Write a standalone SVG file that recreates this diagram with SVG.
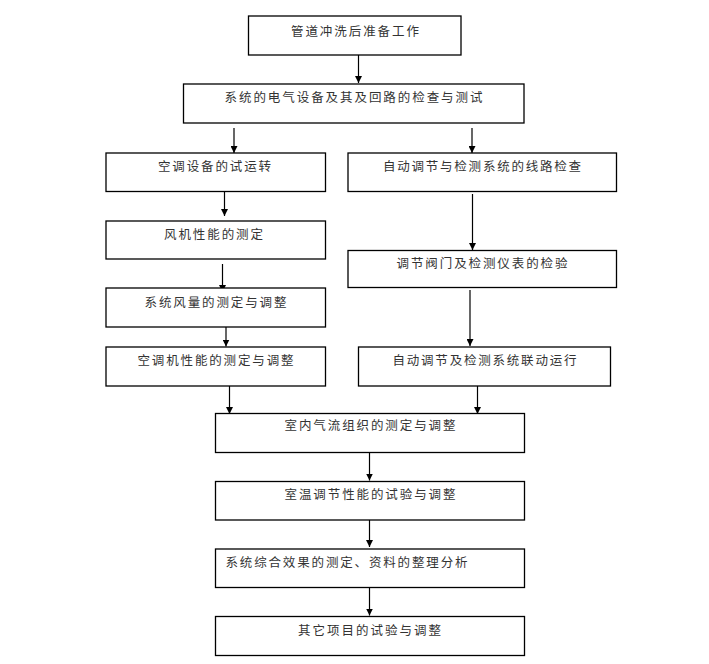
<svg xmlns="http://www.w3.org/2000/svg" width="709" height="664" viewBox="0 0 709 664">
<style>
rect.b{fill:#fff;stroke:#000;stroke-width:1.3}
text{font-family:"Noto Sans CJK SC","Liberation Serif",serif;font-size:12.5px;fill:#333}
.c line{stroke:#000;stroke-width:1.2;marker-end:url(#ah)}
</style>
<defs>
<marker id="ah" viewBox="0 0 8 8" refX="8" refY="4" markerWidth="7" markerHeight="7" markerUnits="userSpaceOnUse" orient="auto"><path d="M0,0 L8,4 L0,8 z" fill="#000"/></marker>
</defs>
<rect width="709" height="664" fill="#fff"/>
<g class="c" id="connectors">
<line x1="358.5" y1="55" x2="358.5" y2="83"/>
<line x1="234" y1="128" x2="234" y2="153"/>
<line x1="472" y1="128" x2="472" y2="153"/>
<line x1="224.5" y1="191" x2="224.5" y2="216"/>
<line x1="472.5" y1="194" x2="472.5" y2="250"/>
<line x1="222.5" y1="264" x2="222.5" y2="292"/>
<line x1="226" y1="327" x2="226" y2="346.5"/>
<line x1="470" y1="290" x2="470" y2="346"/>
<line x1="229.5" y1="386" x2="229.5" y2="414"/>
<line x1="477.5" y1="386" x2="477.5" y2="414"/>
<line x1="369.5" y1="452" x2="369.5" y2="480.5"/>
<line x1="369.5" y1="520" x2="369.5" y2="547"/>
<line x1="369.5" y1="587.5" x2="369.5" y2="615.5"/>
</g>
<g id="n1"><rect class="b" x="248.5" y="16" width="212.5" height="39"/><text x="291" y="35.5" textLength="128" lengthAdjust="spacing">管道冲洗后准备工作</text></g>
<g id="n2"><rect class="b" x="183.5" y="84" width="340.5" height="39"/><text x="224.5" y="102" textLength="258" lengthAdjust="spacing">系统的电气设备及其及回路的检查与测试</text></g>
<g id="n3"><rect class="b" x="106" y="153" width="219.5" height="38.5"/><text x="158" y="171" textLength="113" lengthAdjust="spacing">空调设备的试运转</text></g>
<g id="n4"><rect class="b" x="348" y="153" width="268.5" height="38.5"/><text x="383" y="171" textLength="198" lengthAdjust="spacing">自动调节与检测系统的线路检查</text></g>
<g id="n5"><rect class="b" x="106" y="221" width="219.5" height="38"/><text x="164" y="239" textLength="99" lengthAdjust="spacing">风机性能的测定</text></g>
<g id="n6"><rect class="b" x="348" y="250.5" width="268.5" height="37"/><text x="396.5" y="267.5" textLength="171" lengthAdjust="spacing">调节阀门及检测仪表的检验</text></g>
<g id="n7"><rect class="b" x="106" y="288" width="219.5" height="39"/><text x="144.5" y="306.8" textLength="142" lengthAdjust="spacing">系统风量的测定与调整</text></g>
<g id="n8"><rect class="b" x="106" y="347" width="219.5" height="39"/><text x="137.5" y="365.3" textLength="156" lengthAdjust="spacing">空调机性能的测定与调整</text></g>
<g id="n9"><rect class="b" x="358.5" y="347" width="252" height="39"/><text x="392.5" y="365.3" textLength="184" lengthAdjust="spacing">自动调节及检测系统联动运行</text></g>
<g id="n10"><rect class="b" x="215.5" y="413.5" width="309" height="39"/><text x="284.5" y="430.4" textLength="171" lengthAdjust="spacing">室内气流组织的测定与调整</text></g>
<g id="n11"><rect class="b" x="215.5" y="481.5" width="309" height="38.5"/><text x="284.5" y="498.7" textLength="171" lengthAdjust="spacing">室温调节性能的试验与调整</text></g>
<g id="n12"><rect class="b" x="215.5" y="549" width="309" height="38.5"/><text x="225.5" y="566.7" textLength="242" lengthAdjust="spacing">系统综合效果的测定、资料的整理分析</text></g>
<g id="n13"><rect class="b" x="215.5" y="616.5" width="309" height="39"/><text x="298" y="635.4" textLength="143" lengthAdjust="spacing">其它项目的试验与调整</text></g>
</svg>
